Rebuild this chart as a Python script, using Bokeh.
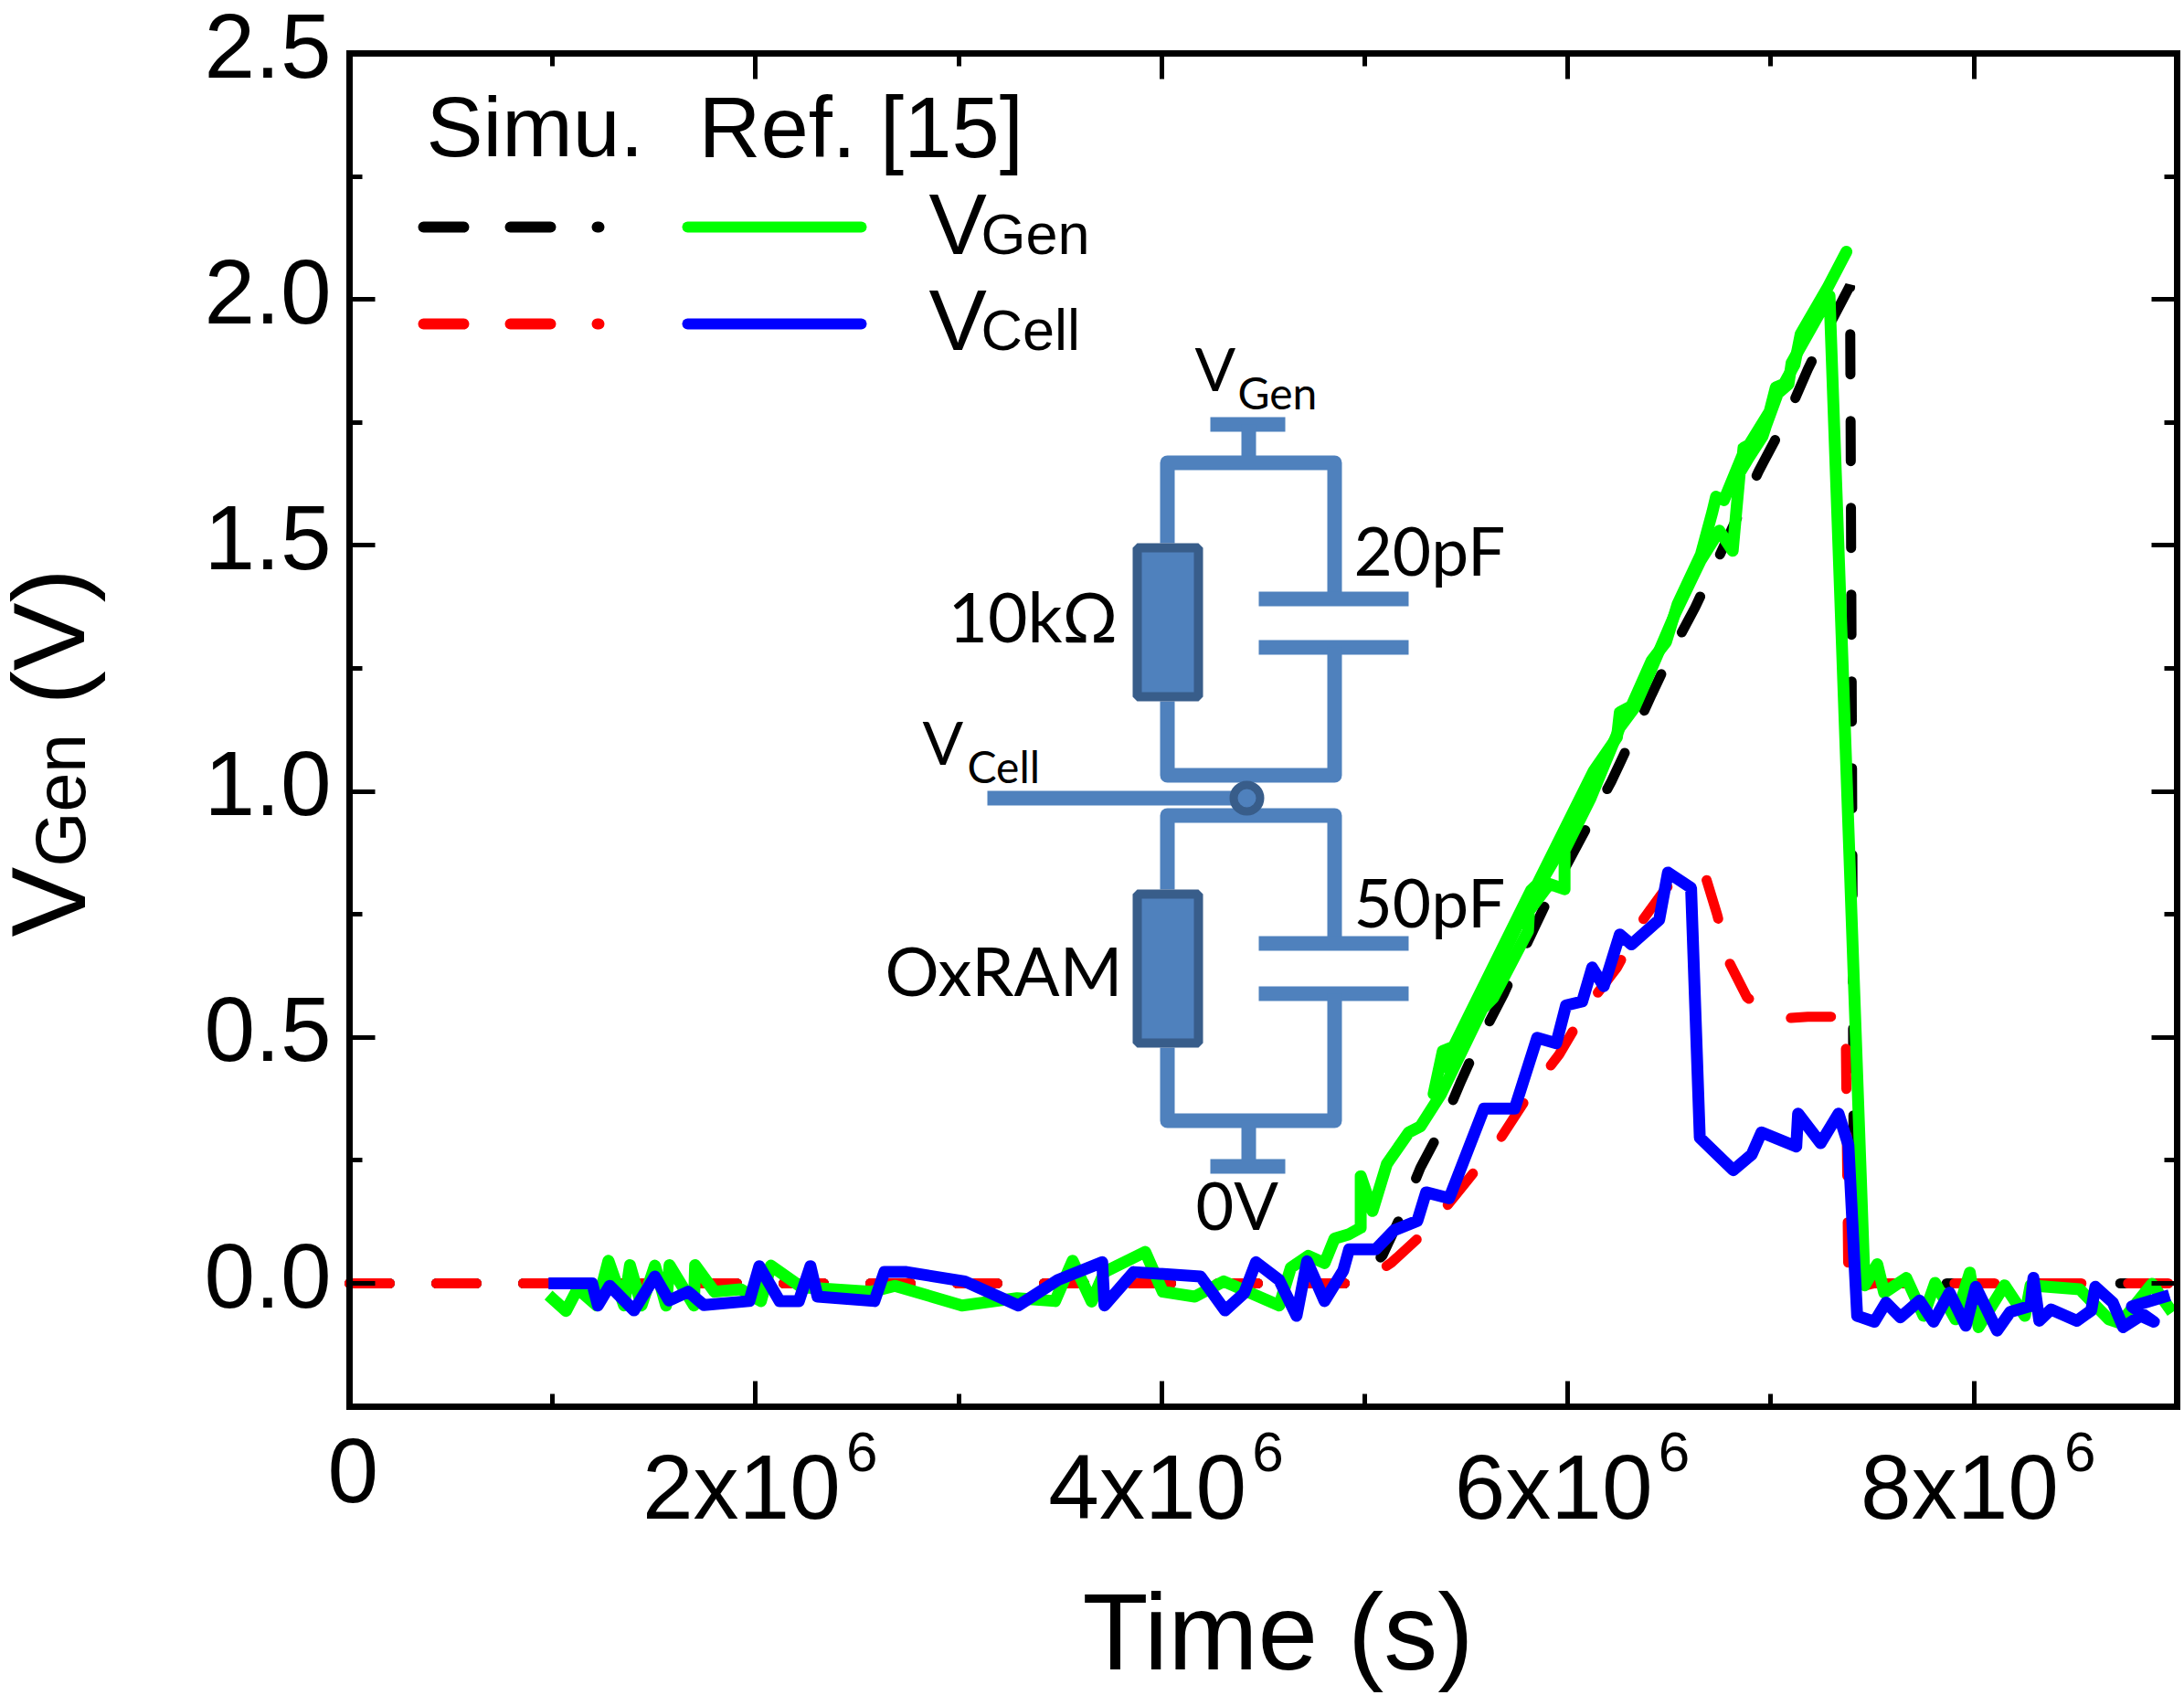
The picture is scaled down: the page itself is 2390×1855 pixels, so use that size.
from math import pi

from bokeh.core.properties import value
from bokeh.embed import file_html
from bokeh.models import FixedTicker, LinearAxis, Range1d
from bokeh.plotting import figure
from bokeh.resources import INLINE

# time is in units of 10^6, as the axis labels have it
simu_gen_x = [0, 4.95, 5.088, 5.174, 5.274, 5.373, 5.475, 5.56, 5.685, 5.77, 5.885, 6.114, 6.214, 6.328,
              6.413, 6.527, 6.627, 6.741, 6.940, 7.077, 7.182, 7.282, 7.390, 7.41, 9]
simu_gen_y = [0, 0, .057, .134, .235, .312, .412, .489, .589, .666, .766, .943, 1.02, 1.12,
              1.197, 1.297, 1.374, 1.474, 1.651, 1.758, 1.858, 1.943, 2.028, 0, 0]

simu_cell_x = [0, 4.9, 5.0, 5.131, 5.316, 5.501, 5.658, 5.815, 5.957, 6.100, 6.242, 6.370, 6.484, 6.598,
               6.678, 6.735, 6.798, 6.883, 6.969, 7.083, 7.182, 7.368, 7.382, 7.51, 9]
simu_cell_y = [0, 0, .005, .042, .112, .207, .288, .388, .465, .565, .642, .739, .804, .835,
               .827, .750, .650, .581, .558, .539, .542, .542, -.012, 0, 0]

ref_gen_x = [.98, 1.066, 1.123, 1.218, 1.275, 1.352, 1.381, 1.438, 1.504, 1.559, 1.576, 1.696, 1.702, 1.797,
             1.926, 2.026, 2.075, 2.227, 2.571, 2.686, 3.016, 3.288, 3.475, 3.561, 3.655, 3.718, 3.919, 4.005,
             4.163, 4.306, 4.579, 4.636, 4.722, 4.802, 4.851, 4.923, 4.980, 4.980, 5.038, 5.109, 5.217, 5.274,
             5.376, 5.579, 5.632, 5.804, 5.809, 5.909, 5.984, 5.984, 6.112, 6.256, 6.328, 6.413, 6.527, 6.655,
             6.746, 6.812, 6.847, 6.892, 6.959, 6.974, 7.034, 7.087, 7.102, 7.237, 7.289,
             7.462, 7.524, 7.558, 7.667, 7.752, 7.809, 7.909, 7.980, 8.023, 8.151, 8.251, 8.279,
             8.521, 8.664, 8.721, 8.877, 8.977]
ref_gen_y = [-.024, -.056, -.011, -.045, .046, -.045, .037, -.045, .036, -.045, .037, -.045, .037, -.017,
             -.012, -.036, .036, -.008, -.017, -.005, -.045, -.030, -.036, .046, -.037, .023, .064, -.017,
             -.027, .004, -.045, .032, .056, .041, .091, .100, .113, .218, .147, .243, .307, .319,
             .385, .558, .580, .716, .757, .812, .801, .880, .986, 1.13, 1.17, 1.25, 1.36, 1.47,
             1.53, 1.489, 1.648, 1.679, 1.722, 1.741, 1.809, 1.828, 1.871, 1.970, 2.007,
             -.004, .039, -.019, .011, -.066, .001, -.073, .022, -.089, -.004, -.066, -.004,
             -.012, -.073, -.081, -.001, -.059]

# the green trace is doubled on the ramp, this is its upper edge and the middle of the band
ref_gen_upper_x = [5.339, 5.384, 5.437, 5.819, 5.849, 6.127, 6.242, 6.256, 6.313, 6.413, 6.484, 6.541, 6.655,
                   6.712, 6.730, 6.769, 6.862, 6.865, 6.892, 6.994, 7.024, 7.064, 7.117, 7.147, 7.282, 7.372]
ref_gen_upper_y = [.385, .472, .481, .799, .811, 1.041, 1.11, 1.161, 1.173, 1.266, 1.304, 1.381, 1.481,
                   1.568, 1.599, 1.592, 1.685, 1.698, 1.704, 1.772, 1.821, 1.828, 1.868, 1.930, 2.026, 2.097]
ref_gen_mid_x = [5.38, 5.62, 5.79, 5.96, 6.12]
ref_gen_mid_y = [.43, .615, .76, .88, 1.01]

ref_cell_x = [.98, 1.195, 1.223, 1.281, 1.401, 1.504, 1.573, 1.668, 1.745, 1.969, 2.018, 2.118, 2.213, 2.270,
              2.305, 2.585, 2.634, 2.743, 3.030, 3.294, 3.489, 3.707, 3.718, 3.862, 4.191, 4.312, 4.406, 4.464,
              4.578, 4.664, 4.716, 4.802, 4.894, 4.923, 5.054, 5.145, 5.259, 5.302, 5.416, 5.587, 5.738, 5.849,
              5.943, 5.991, 6.071, 6.120, 6.177, 6.256, 6.313, 6.450, 6.493, 6.607, 6.650, 6.815, 6.906, 6.954,
              7.125, 7.134, 7.245, 7.333, 7.382, 7.425, 7.510, 7.567, 7.638, 7.732, 7.801, 7.880, 7.960, 8.009,
              8.114, 8.179, 8.279, 8.293, 8.322, 8.379, 8.507, 8.578, 8.598, 8.684, 8.735, 8.821, 8.886, 8.778,
              8.963]
ref_cell_y = [0, 0, -.045, -.005, -.055, .014, -.035, -.017, -.044, -.036, .035, -.036, -.036, .035,
              -.027, -.036, .023, .023, .004, -.045, .007, .043, -.045, .023, .014, -.055, -.02, .043,
              .007, -.066, .045, -.036, .026, .069, .069, .108, .127, .185, .173, .355, .355, .499,
              .488, .565, .573, .642, .604, .709, .689, .739, .835, .804, .296, .230, .262, .307,
              .278, .345, .285, .345, .281, -.066, -.078, -.039, -.069, -.035, -.078, -.019, -.086, -.007,
              -.096, -.058, -.046, .011, -.076, -.053, -.076, -.055, -.007, -.039, -.089, -.066, -.078, -.047,
              -.024]

x_major = [0, 2, 4, 6, 8]
x_minor = [1, 3, 5, 7, 9]
y_major = [0.0, 0.5, 1.0, 1.5, 2.0, 2.5]
y_minor = [-0.25, 0.25, 0.75, 1.25, 1.75, 2.25]
y_tick_labels = ["0.0", "0.5", "1.0", "1.5", "2.0", "2.5"]

WIRE = "#4F81BD"
EDGE = "#385D8A"
DASH = "44 51"
SANS = "Liberation Sans"
WIDTH, HEIGHT = 2388, 1854

# alphabetic text lands this far under the given y in the svg, in em
DROP = {SANS: 0.355, "Lato": 0.385}


# page pixels to data, for everything that is drawn on top of the axes
def X(px):
    return (px - 382) / 222.2


def Y(py):
    return (1404 - py) / 538.4


# the frame fills the whole page so that texts outside the axes box are not clipped
p = figure(width=WIDTH, height=HEIGHT, output_backend="svg", toolbar_location=None,
           x_range=Range1d(X(0), X(WIDTH)), y_range=Range1d(Y(HEIGHT), Y(0)),
           x_axis_location=None, y_axis_location=None, min_border=0)
p.grid.visible = False
p.outline_line_color = None

for side, where in [("left", 0), ("right", 9), ("below", -0.25), ("above", 2.5)]:
    if side in ("left", "right"):
        ticks, minor, bounds = y_major, y_minor, (-0.25, 2.5)
    else:
        ticks, minor, bounds = x_major, x_minor, (0, 9)
    axis = LinearAxis(ticker=FixedTicker(ticks=ticks, minor_ticks=minor), fixed_location=where, bounds=bounds,
                      major_tick_in=28, major_tick_out=0, minor_tick_in=14, minor_tick_out=0,
                      major_tick_line_width=5, minor_tick_line_width=5, axis_line_width=7, axis_line_cap="square",
                      major_label_overrides={t: "" for t in ticks}, major_label_standoff=0)
    p.add_layout(axis, side)


def note(px, py, text, size, font="Lato", align="left", angle=0):
    drop = DROP[font] * size
    if angle:
        px -= drop
    else:
        py -= drop
    p.text([X(px)], [Y(py)], text=[text], text_font=value(font), text_font_size=f"{size}px", text_color="black",
           text_baseline="alphabetic", text_align=align, angle=angle)


# circuit
wires = [
    [(1324, 464), (1406, 464)], [(1366, 464), (1366, 506)],
    [(1277, 594), (1277, 506), (1460, 506), (1460, 655)],
    [(1377, 655), (1541, 655)], [(1377, 708), (1541, 708)],
    [(1460, 708), (1460, 848), (1277, 848), (1277, 767)],
    [(1080, 873), (1360, 873)],
    [(1277, 973), (1277, 892), (1460, 892), (1460, 1032)],
    [(1377, 1032), (1541, 1032)], [(1377, 1087), (1541, 1087)],
    [(1460, 1087), (1460, 1226), (1277, 1226), (1277, 1146)],
    [(1366, 1226), (1366, 1276)], [(1324, 1276), (1406, 1276)],
]
for wire in wires:
    p.line([X(a) for a, b in wire], [Y(b) for a, b in wire], line_color=WIRE, line_width=16, line_join="round")
for top, bottom in [(599, 762), (978, 1141)]:
    p.quad(left=X(1244), right=X(1311), top=Y(top), bottom=Y(bottom), fill_color=WIRE, line_color=EDGE, line_width=10)
p.scatter([X(1364)], [Y(873)], size=29, fill_color=WIRE, line_color=EDGE, line_width=9)

# curves
p.line(simu_gen_x, simu_gen_y, line_color="black", line_width=11, line_dash=DASH, line_cap="round")
p.line(simu_cell_x, simu_cell_y, line_color="#FF0000", line_width=11, line_dash=DASH, line_cap="round")
p.line(ref_gen_x, ref_gen_y, line_color="#00FF00", line_width=13, line_join="round")
p.line(ref_gen_upper_x, ref_gen_upper_y, line_color="#00FF00", line_width=13, line_join="round", line_cap="round")
p.line(ref_gen_mid_x, ref_gen_mid_y, line_color="#00FF00", line_width=13)
p.line(ref_cell_x, ref_cell_y, line_color="#0000FF", line_width=13, line_join="round")

# hand made legend, two columns
p.line([X(463), X(655)], [Y(248)] * 2, line_color="black", line_width=12, line_dash=DASH, line_cap="round")
p.line([X(463), X(655)], [Y(354)] * 2, line_color="#FF0000", line_width=12, line_dash=DASH, line_cap="round")
p.line([X(752), X(942)], [Y(248)] * 2, line_color="#00FF00", line_width=12, line_cap="round")
p.line([X(752), X(942)], [Y(354)] * 2, line_color="#0000FF", line_width=12, line_cap="round")

note(466, 172, "Simu.", 93, SANS)
note(764, 172, "Ref. [15]", 94, SANS)
note(1016, 278, "V", 95, SANS)
note(1073, 278, "Gen", 63, SANS)
note(1016, 383, "V", 95, SANS)
note(1073, 383, "Cell", 63, SANS)

# tick labels, the exponent needs its own text
note(358, 1644, "0", 100, SANS)
for t in x_major[1:]:
    x_px = 382 + t * 222.2
    note(x_px - 124, 1662, f"{t}x10", 100, SANS)
    note(x_px + 99, 1611, "6", 62, SANS)
for t, lab in zip(y_major, y_tick_labels):
    note(362, 1404 - t * 538.4 + 27, lab, 100, SANS, align="right")

# axis titles
note(93, 1025, "V", 115, SANS, angle=pi / 2)
note(93, 948, "Gen", 77, SANS, angle=pi / 2)
note(93, 771, "(V)", 112, SANS, angle=pi / 2)
note(1398, 1827, "Time (s)", 118, SANS, align="center")

# circuit labels
note(1307, 427, "V", 66)
note(1354, 447, "Gen", 48)
note(1009, 836, "V", 66)
note(1058, 856, "Cell", 48)
note(1481, 630, "20pF", 73)
note(1481, 1015, "50pF", 73)
note(1037, 702, "10k\u03a9", 75)
note(968, 1089, "OxRAM", 74)
note(1308, 1345, "0V", 72)

open("out.html", "w").write(file_html(p, INLINE))
